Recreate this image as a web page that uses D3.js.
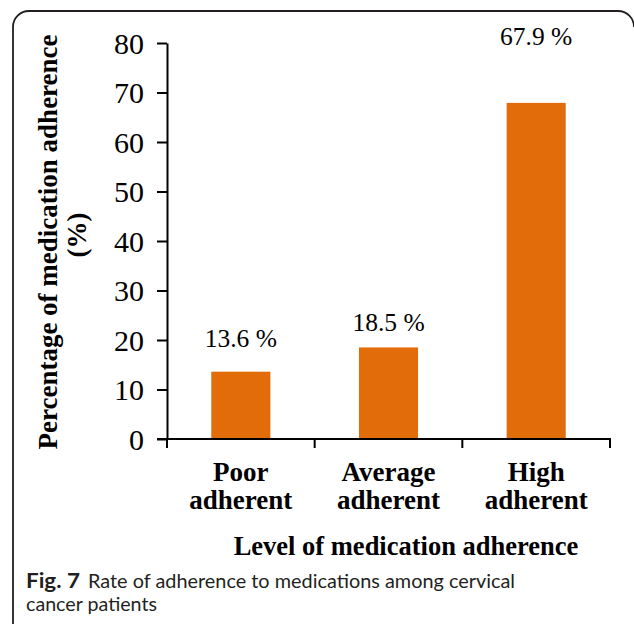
<!DOCTYPE html>
<html>
<head>
<meta charset="utf-8">
<script src="https://cdn.jsdelivr.net/npm/d3@7/dist/d3.min.js"></script>
<style>
  html, body { margin: 0; padding: 0; background: #fff; }
  svg { display: block; }
</style>
</head>
<body>
<svg id="chart" width="634" height="624"></svg>
<script>
// ---- data ----
const categories = [["Poor", "adherent"], ["Average", "adherent"], ["High", "adherent"]];
const values = [13.6, 18.5, 67.9];
const valueLabels = ["13.6 %", "18.5 %", "67.9 %"];
const yTicks = [0, 10, 20, 30, 40, 50, 60, 70, 80];
const yTitle = ["Percentage of medication adherence", "(%)"];
const xTitle = "Level of medication adherence";
const captionBold = "Fig. 7";
const captionLines = ["Rate of adherence to medications among cervical", "cancer patients"];

// ---- rendering ----
const svg = d3.select("#chart");
const serif = "'Liberation Serif', 'Times New Roman', serif";
const sans = "Lato, 'Open Sans', sans-serif";
const barColor = "#E36C0A";

// frame
svg.append("path")
  .attr("d", "M13,626 V27 A16,16 0 0 1 29,11 H618 A16,16 0 0 1 634,27")
  .attr("fill", "none").attr("stroke", "#231f20").attr("stroke-width", 1.8);

const keys = categories.map(c => c.join(" "));
const x = d3.scaleBand().domain(keys).range([167, 610]).padding(0);
const y = d3.scaleLinear().domain([0, 80]).range([439, 43]);

// bars
const barW = x.bandwidth() * 0.4;
svg.selectAll("rect.bar").data(values).join("rect")
  .attr("class", "bar")
  .attr("x", (d, i) => x(keys[i]) + (x.bandwidth() - barW) / 2)
  .attr("y", d => y(d))
  .attr("width", barW)
  .attr("height", d => y(0) - y(d))
  .attr("fill", barColor);

// y axis
const yAxis = d3.axisLeft(y).tickValues(yTicks).tickSize(10).tickSizeOuter(0).tickPadding(13);
const gy = svg.append("g").attr("transform", "translate(167,0)").call(yAxis);
gy.select(".domain").attr("stroke", "#000").attr("stroke-width", 2);
gy.selectAll(".tick line").attr("stroke", "#000").attr("stroke-width", 2);
gy.selectAll(".tick text").attr("font-family", serif).attr("font-size", 30).attr("fill", "#000")
  .attr("dy", "0.34em");

// x axis
const gx = svg.append("g");
gx.append("line").attr("x1", 157).attr("x2", 611).attr("y1", y(0)).attr("y2", y(0))
  .attr("stroke", "#000").attr("stroke-width", 2);
const bounds = keys.map(k => x(k)).concat([x.range()[1]]);
gx.selectAll("line.xt").data(bounds).join("line").attr("class", "xt")
  .attr("x1", d => d).attr("x2", d => d).attr("y1", y(0)).attr("y2", y(0) + 9)
  .attr("stroke", "#000").attr("stroke-width", 2);

// category labels
categories.forEach((c, i) => {
  const cx = x(keys[i]) + x.bandwidth() / 2;
  c.forEach((line, j) => {
    svg.append("text").attr("x", cx).attr("y", 481 + j * 28)
      .attr("text-anchor", "middle").attr("font-family", serif).attr("font-weight", "bold")
      .attr("font-size", 27).attr("fill", "#000").text(line);
  });
});

// value labels
const labelGap = [25, 16, 58];
svg.selectAll("text.val").data(values).join("text").attr("class", "val")
  .attr("x", (d, i) => x(keys[i]) + x.bandwidth() / 2)
  .attr("y", (d, i) => y(d) - labelGap[i])
  .attr("text-anchor", "middle").attr("font-family", serif).attr("font-size", 25.5)
  .attr("fill", "#000").text((d, i) => valueLabels[i]);

// y title
svg.append("text").attr("transform", "translate(57,242) rotate(-90)")
  .attr("text-anchor", "middle").attr("font-family", serif).attr("font-weight", "bold")
  .attr("font-size", 27).attr("fill", "#000").text(yTitle[0]);
svg.append("text").attr("transform", "translate(86,235) rotate(-90)")
  .attr("text-anchor", "middle").attr("font-family", serif).attr("font-weight", "bold")
  .attr("font-size", 27).attr("fill", "#000").text(yTitle[1]);

// x title
svg.append("text").attr("x", 406).attr("y", 555)
  .attr("text-anchor", "middle").attr("font-family", serif).attr("font-weight", "bold")
  .attr("font-size", 26.5).attr("fill", "#000").text(xTitle);

// caption
svg.append("text").attr("x", 26).attr("y", 588)
  .attr("font-family", sans).attr("font-weight", "bold").attr("font-size", 20)
  .attr("fill", "#231f20").attr("textLength", 54).attr("lengthAdjust", "spacingAndGlyphs")
  .text(captionBold);
svg.append("text").attr("x", 88).attr("y", 588)
  .attr("font-family", sans).attr("font-size", 20)
  .attr("fill", "#231f20").attr("textLength", 427).attr("lengthAdjust", "spacingAndGlyphs")
  .text(captionLines[0]);
svg.append("text").attr("x", 26).attr("y", 611)
  .attr("font-family", sans).attr("font-size", 20)
  .attr("fill", "#231f20").attr("textLength", 131).attr("lengthAdjust", "spacingAndGlyphs")
  .text(captionLines[1]);
</script>
</body>
</html>
